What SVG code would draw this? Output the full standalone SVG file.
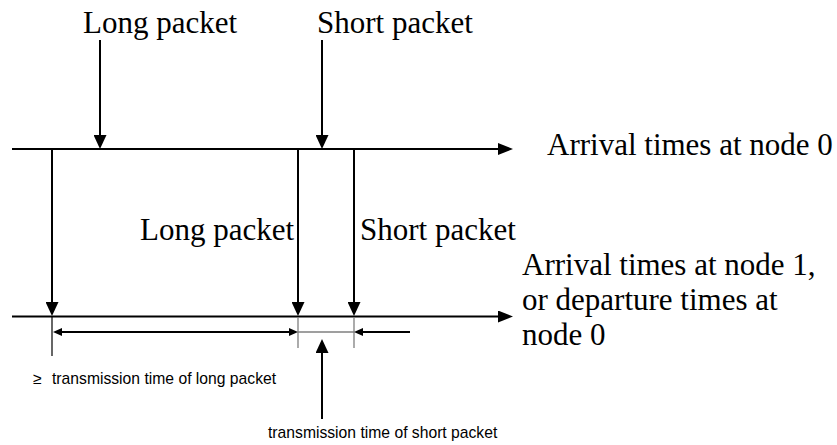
<svg xmlns="http://www.w3.org/2000/svg" width="837" height="445" viewBox="0 0 837 445">
  <style>
    .lbl { font-family: "Liberation Serif", "Times New Roman", serif; font-size: 31px; fill: #000; }
    .note { font-family: "Liberation Sans", Arial, sans-serif; font-size: 15.7px; fill: #000; }
    .axis { stroke: #000; stroke-width: 2.2; fill: none; }
    .drop { stroke: #000; stroke-width: 2; fill: none; }
    .dim { stroke: #000; stroke-width: 2; fill: none; }
    .thin { stroke: #000; stroke-width: 1.2; fill: none; }
    .grey { stroke: #7f7f7f; stroke-width: 1.3; fill: none; }
  </style>
  <defs>
    <marker id="headAxis" markerUnits="userSpaceOnUse" markerWidth="15" markerHeight="12" refX="0" refY="6" orient="auto">
      <path d="M0,0 L15,6 L0,12 z" fill="#000"/>
    </marker>
    <marker id="headDrop" markerUnits="userSpaceOnUse" markerWidth="14" markerHeight="13" refX="0" refY="6.5" orient="auto">
      <path d="M0,0 L14,6.5 L0,13 z" fill="#000"/>
    </marker>
    <marker id="headDim" markerUnits="userSpaceOnUse" markerWidth="9" markerHeight="8" refX="0" refY="4" orient="auto-start-reverse">
      <path d="M0,0 L9,4 L0,8 z" fill="#000"/>
    </marker>
  </defs>

  <g id="connectors">
    <!-- time axes -->
    <line class="axis" x1="12" y1="149" x2="498" y2="149" marker-end="url(#headAxis)"/>
    <line class="axis" x1="12" y1="316.5" x2="498" y2="316.5" marker-end="url(#headAxis)"/>
    <!-- packet arrivals at node 0 -->
    <line class="drop" x1="100" y1="40" x2="100" y2="135" marker-end="url(#headDrop)"/>
    <line class="drop" x1="322" y1="40" x2="322" y2="135" marker-end="url(#headDrop)"/>
    <!-- transfers from node 0 to node 1 -->
    <line class="drop" x1="52" y1="149" x2="52" y2="302" marker-end="url(#headDrop)"/>
    <line class="drop" x1="298" y1="149" x2="298" y2="302" marker-end="url(#headDrop)"/>
    <line class="drop" x1="354" y1="149" x2="354" y2="302" marker-end="url(#headDrop)"/>
    <!-- extension ticks -->
    <line class="thin" x1="52" y1="317" x2="52" y2="356"/>
    <line class="grey" x1="298" y1="317" x2="298" y2="348"/>
    <line class="grey" x1="354" y1="317" x2="354" y2="348"/>
    <!-- dimension lines -->
    <line class="dim" x1="62" y1="332" x2="289" y2="332" marker-start="url(#headDim)" marker-end="url(#headDim)"/>
    <line class="grey" x1="298" y1="332" x2="354" y2="332"/>
    <line class="dim" x1="410" y1="332" x2="363" y2="332" marker-end="url(#headDim)"/>
    <!-- pointer to short transmission interval -->
    <line class="drop" x1="322" y1="419" x2="322" y2="353" marker-end="url(#headDrop)"/>
  </g>

  <g id="label-long-top"><text class="lbl" x="83" y="33">Long packet</text></g>
  <g id="label-short-top"><text class="lbl" x="317" y="33">Short packet</text></g>
  <g id="label-axis0"><text class="lbl" x="547" y="155">Arrival times at node 0</text></g>
  <g id="label-long-mid"><text class="lbl" x="140" y="240">Long packet</text></g>
  <g id="label-short-mid"><text class="lbl" x="360" y="240">Short packet</text></g>
  <g id="label-axis1">
    <text class="lbl" x="522" y="275">Arrival times at node 1,</text>
    <text class="lbl" x="522" y="310">or departure times at</text>
    <text class="lbl" x="522" y="345">node 0</text>
  </g>
  <g id="note-long">
    <text class="note" x="33" y="384">≥</text>
    <text class="note" x="52" y="384">transmission time of long packet</text>
  </g>
  <g id="note-short"><text class="note" x="268" y="438">transmission time of short packet</text></g>
</svg>
